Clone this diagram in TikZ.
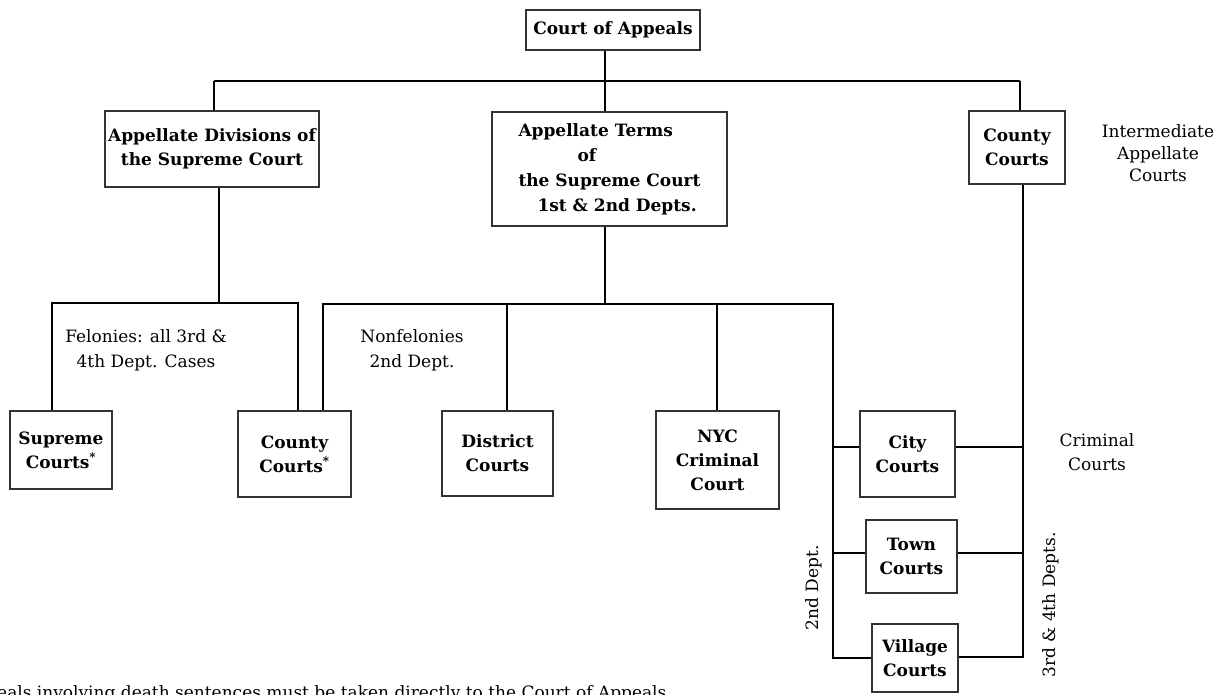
\documentclass[tikz,border=0pt]{standalone}
\usepackage{fontspec}
\setmainfont{DejaVu Serif}
\usetikzlibrary{positioning,calc}

\begin{document}
\begin{tikzpicture}[
    x=1pt, y=-1pt,
    box/.style={rectangle, draw=black!80, line width=1.3pt, align=center, inner sep=0pt, font=\fontsize{17}{24}\selectfont\bfseries},
    note/.style={align=center, inner sep=0pt, font=\fontsize{17}{25}\selectfont},
    link/.style={line width=1.3pt},
    heavy/.style={line width=2.4pt}
]
\useasboundingbox (0,0) rectangle (1229,694);
\clip (0,0) rectangle (1229,694);

% upper level
\node[box, minimum width=174pt, minimum height=40pt] (appeals) at (613,30) {Court of Appeals};
\node[box, minimum width=214pt, minimum height=76pt] (appdiv) at (212,149) {Appellate Divisions of\\the Supreme Court};
\node[box, align=left, minimum width=235pt, minimum height=114pt, font=\fontsize{17}{25}\selectfont\bfseries] (appterms) at (609.5,169)
    {Appellate Terms\\\hspace*{59pt}of\\the Supreme Court\\\hspace*{19pt}1st \& 2nd Depts.};
\node[box, minimum width=96pt, minimum height=73pt] (countyc) at (1017,147.5) {County\\Courts};

% criminal courts
\node[box, minimum width=102pt, minimum height=78pt] (supreme) at (61,450) {Supreme\\Courts\textsuperscript{*}};
\node[box, minimum width=113pt, minimum height=86pt] (countyb) at (294.5,454) {County\\Courts\textsuperscript{*}};
\node[box, minimum width=111pt, minimum height=85pt] (district) at (497.5,453.5) {District\\Courts};
\node[box, minimum width=123pt, minimum height=98pt] (nyc) at (717.5,460) {NYC\\Criminal\\Court};
\node[box, minimum width=95pt, minimum height=86pt] (city) at (907.5,454) {City\\Courts};
\node[box, minimum width=91pt, minimum height=73pt] (town) at (911.5,556.5) {Town\\Courts};
\node[box, minimum width=86pt, minimum height=68pt] (village) at (915,658) {Village\\Courts};

% labels
\node[note] (felonies) at (146,350) {Felonies: all 3rd \&\\4th Dept. Cases};
\node[note] (nonfel) at (412,350) {Nonfelonies\\2nd Dept.};
\node[note, font=\fontsize{17}{22}\selectfont] (interm) at (1158,153) {Intermediate\\Appellate\\Courts};
\node[note, font=\fontsize{17}{24}\selectfont] (crim) at (1097,452) {Criminal\\Courts};
\node[note, rotate=90] (dept2) at (814,588) {2nd Dept.};
\node[note, rotate=90] (dept34) at (1051,605) {3rd \& 4th Depts.};
\node[note, anchor=base west] (foot) at (-3,698) {eals involving death sentences must be taken directly to the Court of Appeals};

% junctions
\coordinate (topl) at (214,81);
\coordinate (topm) at (605,81);
\coordinate (topr) at (1020,81);
\coordinate (fel) at (219,303);
\coordinate (fell) at (52,303);
\coordinate (felr) at (298,303);
\coordinate (mid) at (605,304);
\coordinate (midl) at (323,304);
\coordinate (middist) at (507,304);
\coordinate (midnyc) at (717,304);
\coordinate (midr) at (833,304);
\coordinate (jcity) at (833,447);
\coordinate (jtown) at (833,553);
\coordinate (right) at (1023,657);

\draw[link] (topl) -- (topr);
\draw[link] (appeals.south -| topm) -- (appterms.north -| topm);
\draw[heavy] (topl) -- (appdiv.north -| topl);
\draw[heavy] (topr) -- (countyc.north -| topr);

\draw[heavy] (appdiv.south -| fel) -- (fel);
\draw[link] (supreme.north -| fell) |- (felr) -- (countyb.north -| felr);

\draw[link] (appterms.south -| mid) -- (mid);
\draw[link] (countyb.north -| midl) |- (midr) -- (village.west -| midr) -- (village.west);
\draw[link] (middist) -- (district.north -| middist);
\draw[link] (midnyc) -- (nyc.north -| midnyc);
\draw[link] (jcity) -- (city.west |- jcity);
\draw[link] (jtown) -- (town.west |- jtown);

\draw[link] (countyc.south -| right) -- (right) -- (village.east |- right);
\draw[link] (city.east |- jcity) -- (jcity -| right);
\draw[link] (town.east |- jtown) -- (jtown -| right);

\end{tikzpicture}
\end{document}
